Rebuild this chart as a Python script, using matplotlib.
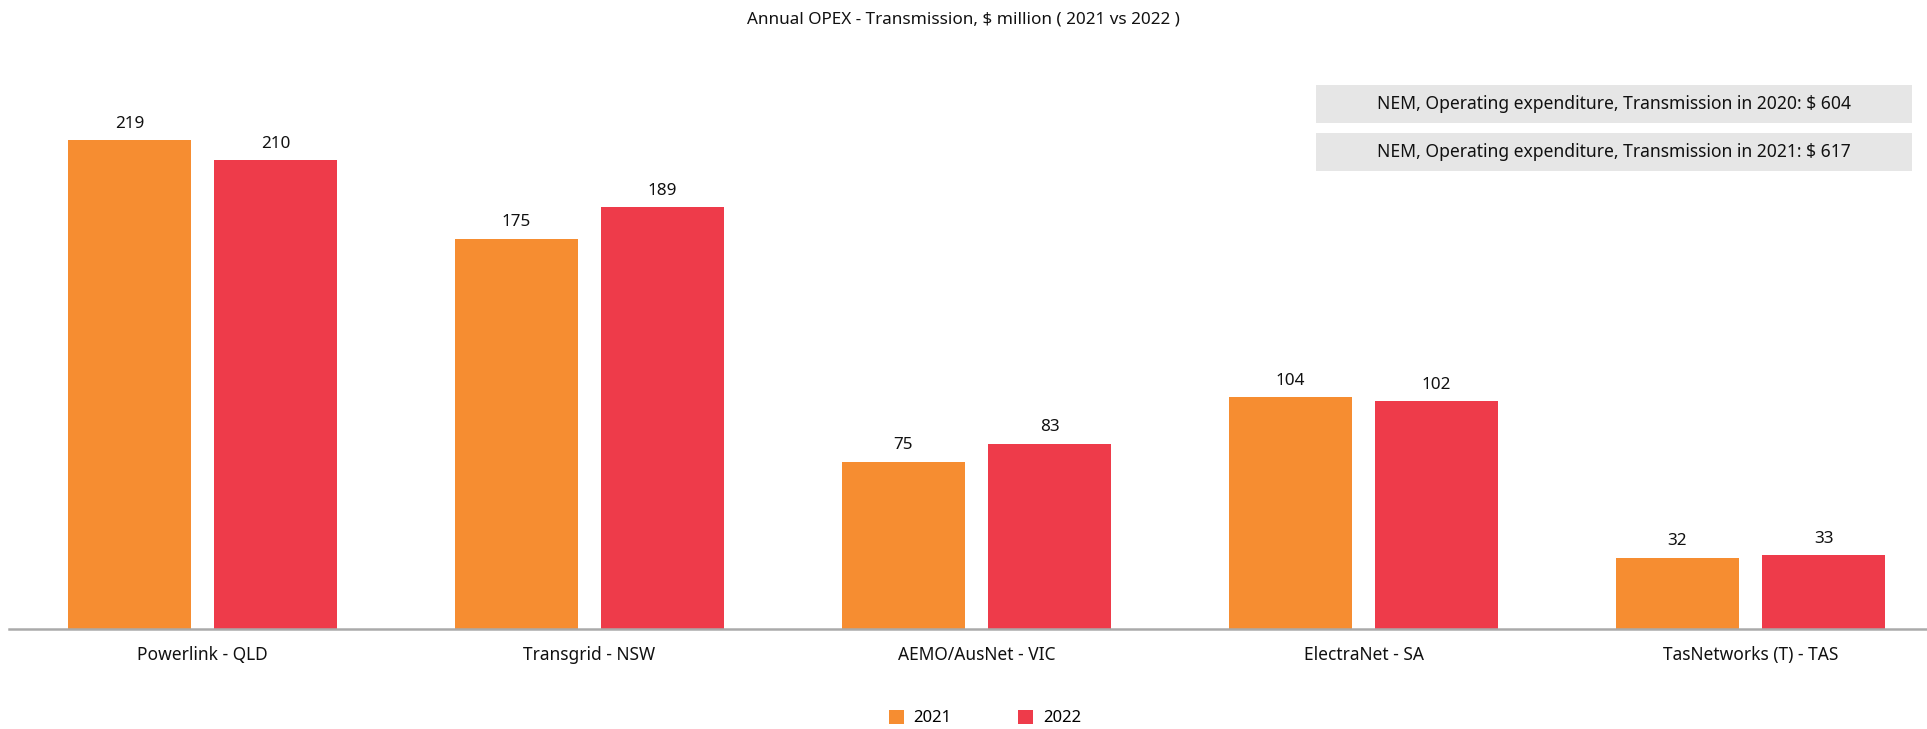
import numpy as np
import matplotlib
matplotlib.use('Agg')
import matplotlib.pyplot as plt
import matplotlib.patches as patches

plt.rcParams['font.family'] = ['Noto Sans', 'DejaVu Sans']

# data
categories = ['Powerlink - QLD', 'Transgrid - NSW', 'AEMO/AusNet - VIC',
              'ElectraNet - SA', 'TasNetworks (T) - TAS']
years = ['2021', '2022']
opex_2021 = [219, 175, 75, 104, 32]
opex_2022 = [210, 189, 83, 102, 33]
notes = ['NEM, Operating expenditure, Transmission in 2020: $ 604',
         'NEM, Operating expenditure, Transmission in 2021: $ 617']

col_2021 = '#F68D31'
col_2022 = '#EE3B4A'

W, H = 1927, 729
fig = plt.figure(figsize=(W / 100, H / 100), dpi=100)
ax = fig.add_axes([9 / W, 100 / H, (W - 9) / W, 569 / H])

x = np.arange(len(categories))
bw = 0.318
off = 0.189
b1 = ax.bar(x - off, opex_2021, bw, color=col_2021, label=years[0])
b2 = ax.bar(x + off, opex_2022, bw, color=col_2022, label=years[1])

for bars in (b1, b2):
    for rect in bars:
        ax.annotate(f'{rect.get_height():.0f}',
                    (rect.get_x() + rect.get_width() / 2, rect.get_height()),
                    xytext=(0, 6), textcoords='offset points',
                    ha='center', va='bottom', fontsize=12.3, color='#111111')

ax.set_xlim(-0.5, (W - 202.5) / 387)
ax.set_ylim(0, 255)
ax.set_xticks(x)
ax.set_xticklabels(categories, fontsize=12.5, color='#111111')
ax.tick_params(axis='x', length=0, pad=12)
ax.set_yticks([])
for s in ['top', 'right', 'left']:
    ax.spines[s].set_visible(False)
ax.spines['bottom'].set_color('#aaaaaa')
ax.spines['bottom'].set_linewidth(1.8)

fig.text(0.5, 1 - 19 / H, 'Annual OPEX - Transmission, $ million ( 2021 vs 2022 )',
         ha='center', va='center', fontsize=12.3, fontweight='medium', color='#111111')

# summary boxes
box_x0, box_x1 = 1316, 1912
for i, txt in enumerate(notes):
    y0, y1 = 85 + i * 48, 123 + i * 48
    fig.add_artist(patches.Rectangle((box_x0 / W, 1 - y1 / H), (box_x1 - box_x0) / W,
                                     (y1 - y0) / H, transform=fig.transFigure,
                                     facecolor='#e6e6e6', edgecolor='none'))
    fig.text((box_x0 + box_x1) / 2 / W, 1 - (y0 + y1) / 2 / H, txt,
             ha='center', va='center', fontsize=12.6, color='#111111')

fig.legend(handles=[b1, b2], loc='center', bbox_to_anchor=(985 / W, 1 - 718 / H),
           ncol=2, frameon=False, fontsize=12, handlelength=0.9, handleheight=0.9,
           handletextpad=0.6, columnspacing=4.0)

fig.savefig('out.png', dpi=100, facecolor='white')
